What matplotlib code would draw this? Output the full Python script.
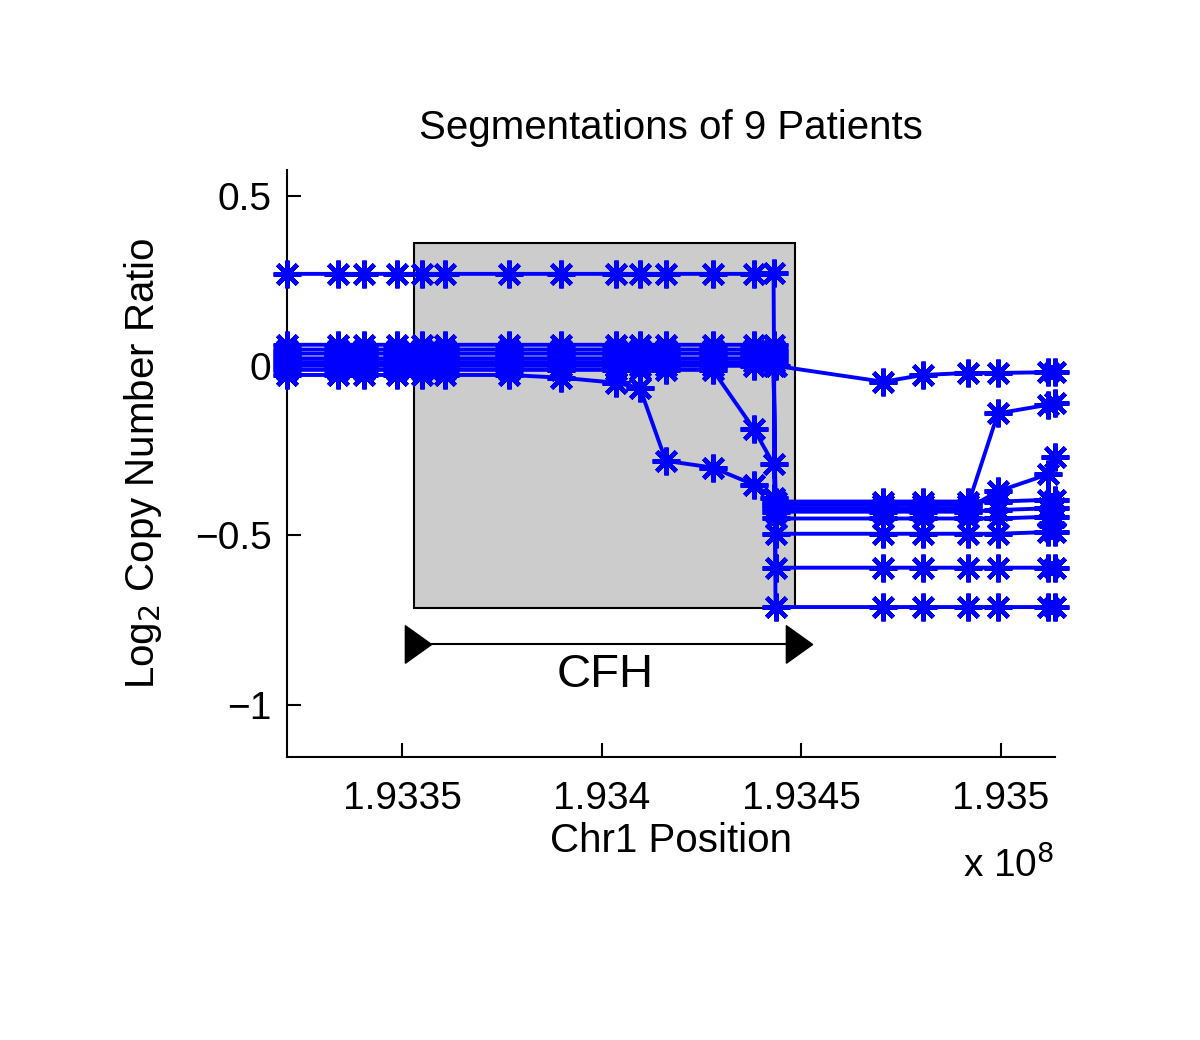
import matplotlib
matplotlib.use('Agg')
import matplotlib.pyplot as plt
from matplotlib.patches import Rectangle
from matplotlib.ticker import FuncFormatter, FixedLocator

plt.rcParams['font.family'] = ['Liberation Sans', 'DejaVu Sans']

# probe positions (bp) on chr1
pos_left = [193321000, 193333750, 193340250, 193348500, 193355000, 193360750,
            193376750, 193389750, 193403500, 193409500, 193416000, 193427750,
            193438000, 193443000]
pos_drop = 193443500
pos_right = [193470500, 193480500, 193491750, 193499250, 193511750, 193513500]

# log2 ratios of the 9 patients: left probes, then drop probe + right probes
p1_left = [0.271] * 13 + [0.275]
p1_rest = [-0.711] * 7
p2_left = [0.062] * 14
p2_rest = [-0.595] * 7
p3_left = [0.048] * 14
p3_rest = [-0.41, -0.41, -0.41, -0.41, -0.14, -0.115, -0.11]
p4_left = [0.036] * 14
p4_rest = [-0.43, -0.43, -0.43, -0.43, -0.425, -0.42, -0.42]
p5_left = [0.022] * 14
p5_rest = [-0.45, -0.45, -0.45, -0.45, -0.45, -0.445, -0.445]
p6_left = [0.011] * 14
p6_rest = [-0.495, -0.495, -0.495, -0.495, -0.495, -0.49, -0.49]
p7_left = [0.0] * 14
p7_rest = [0.0, -0.047, -0.027, -0.021, -0.021, -0.019, -0.018]
p8_left = [-0.012] * 12 + [-0.185, -0.29]
p8_rest = [-0.40, -0.40, -0.40, -0.40, -0.40, -0.395, -0.395]
p9_left = [-0.027] * 7 + [-0.035, -0.05, -0.065, -0.28, -0.30, -0.35, -0.39]
p9_rest = [-0.42, -0.42, -0.42, -0.42, -0.37, -0.32, -0.27]

patients_left = [p1_left, p2_left, p3_left, p4_left, p5_left, p6_left, p7_left, p8_left, p9_left]
patients_rest = [p1_rest, p2_rest, p3_rest, p4_rest, p5_rest, p6_rest, p7_rest, p8_rest, p9_rest]

# CFH gene region
cfh_start = 193353000
cfh_end = 193448500
box_low, box_high = -0.714, 0.363
arrow_y = -0.82
label_y = -0.91

fig = plt.figure(figsize=(12, 10.4), dpi=100)
ax = fig.add_axes([0.239, 0.2721, 0.64, 0.5644])

ax.add_patch(Rectangle((cfh_start, box_low), cfh_end - cfh_start, box_high - box_low,
                       facecolor=(0.8, 0.8, 0.8), edgecolor='k', linewidth=1.5, zorder=1))

tri = [(-0.35, -0.5), (0.35, 0.0), (-0.35, 0.5), (-0.35, -0.5)]
ax.plot([cfh_start + 1000, cfh_end + 1000], [arrow_y, arrow_y], color='k', lw=1.5,
        marker=tri, markersize=27, markerfacecolor='k', markeredgecolor='k', zorder=2)
ax.text((cfh_start + cfh_end) / 2, label_y, 'CFH', fontsize=34, ha='center', va='center')

xs = pos_left + [pos_drop] + pos_right
for left, rest in zip(patients_left, patients_rest):
    ax.plot(xs, left + rest, color=(0, 0, 1), lw=2.8, marker=(8, 2, 0), markersize=20,
            markeredgewidth=3.2, clip_on=False, zorder=3)

ax.set_xlim(min(xs), max(xs))
ax.set_ylim(-1.153, 0.577)
ax.spines['top'].set_visible(False)
ax.spines['right'].set_visible(False)
ax.spines['left'].set_linewidth(1.5)
ax.spines['bottom'].set_linewidth(1.5)

ax.xaxis.set_major_locator(FixedLocator([193350000, 193400000, 193450000, 193500000]))
ax.xaxis.set_major_formatter(FuncFormatter(lambda v, p: f'{v / 1e8:g}'))
ax.set_yticks([-1, -0.5, 0, 0.5])
ax.set_yticklabels(['\u22121', '\u22120.5', '0', '0.5'])
ax.tick_params(direction='in', length=10, width=1.5, labelsize=28)
ax.tick_params(axis='x', pad=17)
ax.tick_params(axis='y', pad=11)

ax.set_xlabel('Chr1 Position', fontsize=29, labelpad=4)
ax.set_ylabel('Log$_2$ Copy Number Ratio', fontsize=29, labelpad=22)
ax.set_title('Segmentations of 9 Patients', fontsize=29, pad=22)
ax.text(1.0, -0.205, 'x 10$^8$', transform=ax.transAxes, fontsize=28, ha='right', va='baseline')

fig.savefig('out.png', dpi=100)
